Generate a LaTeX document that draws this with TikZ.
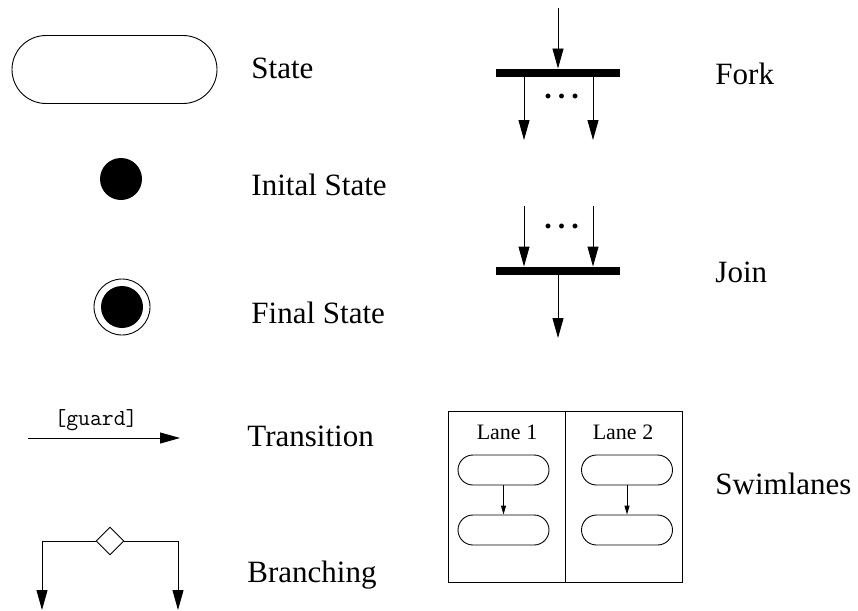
\documentclass[tikz,border=0pt]{standalone}
\usepackage{fontspec}
\setmainfont{Liberation Serif}
\usetikzlibrary{arrows.meta,shapes.geometric}
\begin{document}
\begin{tikzpicture}[x=1pt,y=-1pt,line width=0.9pt,
  lbl/.style={anchor=base west,inner sep=0pt,font=\fontsize{31}{36}\selectfont},
  pill/.style={draw,rounded corners=#1,inner sep=0pt},
  big/.style={-{Triangle[length=20pt,width=11pt]}},
  small/.style={-{Triangle[length=9pt,width=5pt]}},
  bar/.style={fill=black,draw=none,minimum width=124pt,minimum height=8pt,inner sep=0pt},
  dots/.style={font=\fontsize{30}{30}\selectfont\bfseries,inner sep=0pt}]
\useasboundingbox (0,0) rectangle (858,610);

% State
\node[pill=34pt,minimum width=205pt,minimum height=68pt] (state) at (114.5,69.5) {};
\node[lbl] (lstate) at (251,78) {State};

% Initial state
\node[circle,fill=black,minimum size=42pt,inner sep=0pt] (init) at (121,179) {};
\node[lbl] (linit) at (251,195) {Inital State};

% Final state
\node[circle,draw,minimum size=56pt,inner sep=0pt] (fin) at (122,307) {};
\node[circle,fill=black,minimum size=42pt,inner sep=0pt] (fininner) at (122,307) {};
\node[lbl] (lfin) at (251,323) {Final State};

% Transition
\coordinate (ta) at (28,438);
\coordinate (tb) at (180,438);
\draw[big] (ta) -- (tb);
\node[anchor=base,inner sep=0pt,font=\ttfamily\fontsize{23}{26}\selectfont] (guard) at (96,425) {[guard]};
\node[lbl] (ltrans) at (247,446) {Transition};

% Branching
\node[diamond,draw,minimum size=28pt,inner sep=0pt] (dia) at (110,541) {};
\coordinate (bl) at (42,610);
\coordinate (br) at (178,610);
\draw[big] (dia.west) -| (bl);
\draw[big] (dia.east) -| (br);
\node[lbl] (lbranch) at (247,582) {Branching};

% Fork
\node[bar] (fork) at (558,73) {};
\coordinate (fin0) at (558,8);
\coordinate (fo1) at (524,140);
\coordinate (fo2) at (593,140);
\draw[big] (fin0) -- (fork.north);
\draw[big] (fo1 |- fork.south) -- (fo1);
\draw[big] (fo2 |- fork.south) -- (fo2);
\node[dots] (fdots) at (561.5,96) {.\hspace{6pt}.\hspace{6pt}.};
\node[lbl] (lfork) at (715,84) {Fork};

% Join
\node[bar] (join) at (558,271) {};
\coordinate (ji1) at (524,206);
\coordinate (ji2) at (593,206);
\coordinate (jo) at (558,338);
\draw[big] (ji1) -- (ji1 |- join.north);
\draw[big] (ji2) -- (ji2 |- join.north);
\draw[big] (join.south) -- (jo);
\node[dots] (jdots) at (561.5,226) {.\hspace{6pt}.\hspace{6pt}.};
\node[lbl] (ljoin) at (715,282) {Join};

% Swimlanes
\node[draw,minimum width=234pt,minimum height=171pt,inner sep=0pt] (lanes) at (565,496.5) {};
\draw (lanes.north) -- (lanes.south);
\node[anchor=base,inner sep=0pt,font=\fontsize{22}{26}\selectfont] (lane1) at (507,439) {Lane 1};
\node[anchor=base,inner sep=0pt,font=\fontsize{22}{26}\selectfont] (lane2) at (623,439) {Lane 2};
\node[pill=15pt,minimum width=91pt,minimum height=30pt] (a1) at (503.5,470) {};
\node[pill=15pt,minimum width=91pt,minimum height=30pt] (b1) at (503.5,530) {};
\node[pill=15pt,minimum width=91pt,minimum height=30pt] (a2) at (627,470) {};
\node[pill=15pt,minimum width=91pt,minimum height=30pt] (b2) at (627,530) {};
\draw[small] (a1) -- (b1);
\draw[small] (a2) -- (b2);
\node[lbl] (lswim) at (715,494) {Swimlanes};
\end{tikzpicture}
\end{document}
